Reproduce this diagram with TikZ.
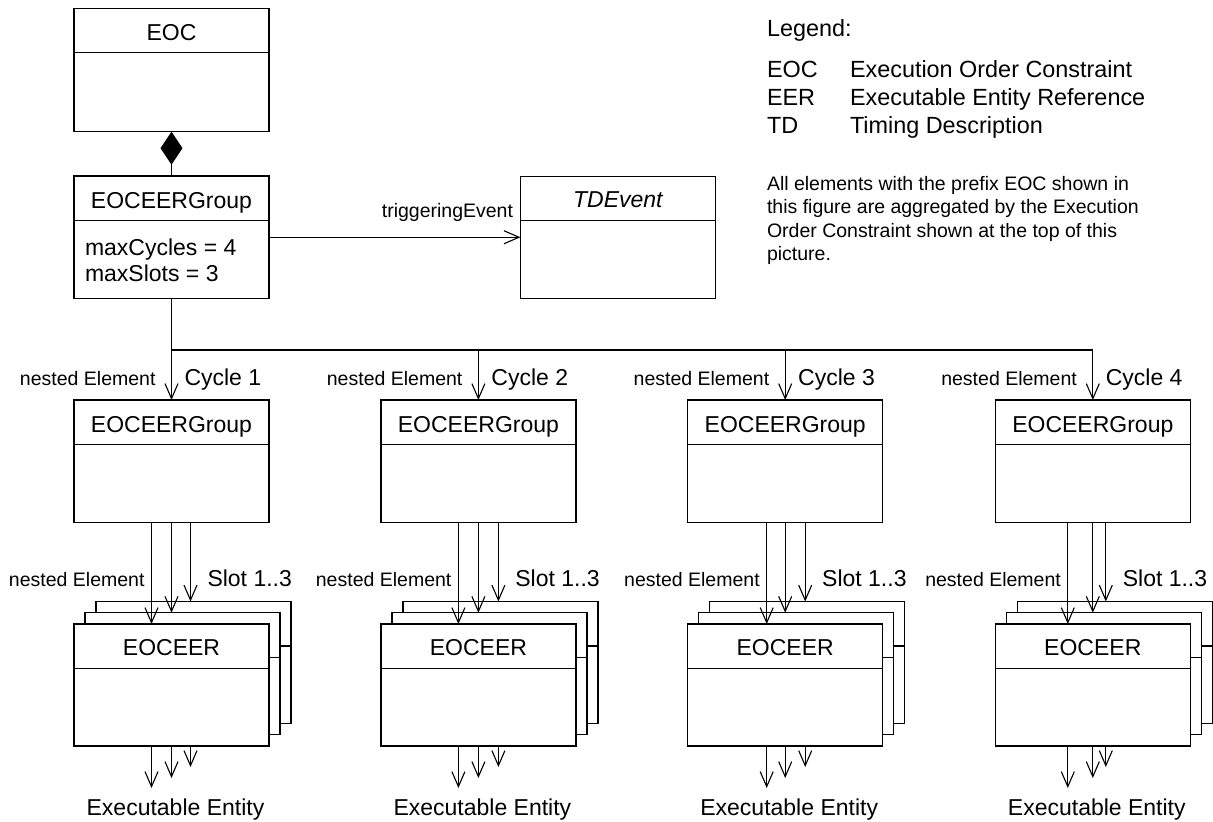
\documentclass[tikz,border=0pt]{standalone}
\usepackage{fontspec}
\setmainfont{Liberation Sans}
\usetikzlibrary{arrows.meta,calc}
\tikzset{
  umlbox/.style={draw, line width=1.2pt, fill=white, minimum width=195pt, minimum height=122.5pt, inner sep=0pt, outer sep=0pt},
  conn/.style={line width=1.1pt},
  arr/.style={conn, -{Straight Barb[length=15pt,width=13pt]}},
  maintxt/.style={font=\fontsize{23}{27}\selectfont, inner sep=0pt, outer sep=0pt},
  legtxt/.style={font=\fontsize{23.4}{27}\selectfont, inner sep=0pt, outer sep=0pt},
  smalltxt/.style={font=\fontsize{19.5}{23.5}\selectfont, inner sep=0pt, outer sep=0pt},
}
\newcommand\umldivider[1]{\draw[conn] ($(#1.north west)+(0,44.5)$) -- ($(#1.north east)+(0,44.5)$);}
\begin{document}
\begin{tikzpicture}[x=1pt,y=-1pt]
\fill[white] (0,0) rectangle (1213,822);
\useasboundingbox (0,0) rectangle (1213,822);

% top EOC box
\node[umlbox, minimum height=123.4pt] (eoc) at (171.5,70) {};
\umldivider{eoc}
\node[maintxt, anchor=base] (eoct) at ($(eoc.north)+(0,31.7)$) {EOC};

% top group
\node[umlbox] (g0) at (171.5,237.25) {};
\umldivider{g0}
\node[maintxt, anchor=base] (g0t) at ($(g0.north)+(0,32)$) {EOCEERGroup};
\node[maintxt, anchor=base west] (g0a) at (85,255) {maxCycles = 4};
\node[maintxt, anchor=base west] (g0b) at (85,281.7) {maxSlots = 3};

\draw[conn, {Diamond[length=33pt,width=22pt]}-] (eoc.south) -- (g0.north);

% TDEvent
\node[umlbox, minimum height=122pt] (td) at (617.9,237.25) {};
\umldivider{td}
\node[maintxt, anchor=base] (tdt) at ($(td.north)+(0,31.3)$) {\itshape TDEvent};
\draw[arr] (g0.east) -- (td.west);
\node[smalltxt, anchor=base east] (trig) at (513,217) {triggeringEvent};

% legend
\node[legtxt, anchor=base west] (lg) at (767,36.7) {Legend:};
\node[legtxt, anchor=base west] (lga) at (767,77.7) {EOC};
\node[legtxt, anchor=base west] (lgad) at (850,77.7) {Execution Order Constraint};
\node[legtxt, anchor=base west] (lgb) at (767,105.7) {EER};
\node[legtxt, anchor=base west] (lgbd) at (850,105.7) {Executable Entity Reference};
\node[legtxt, anchor=base west] (lgc) at (767,133.5) {TD};
\node[legtxt, anchor=base west] (lgcd) at (850,133.5) {Timing Description};
\node[smalltxt, anchor=north west, align=left] (note) at (767,176) {All elements with the prefix EOC shown in\\this figure are aggregated by the Execution\\Order Constraint shown at the top of this\\picture.};

% columns
\foreach \i/\cx/\dl/\dr in {1/171.5/-20/19, 2/478.4/-20/20, 3/785.2/-18.5/20, 4/1092.8/-25/13} {
  \node[umlbox, minimum height=122.7pt] (cyc\i) at (\cx,461.35) {};
  \umldivider{cyc\i}
  \node[maintxt, anchor=base] (cyct\i) at ($(cyc\i.north)+(0,32)$) {EOCEERGroup};
  \coordinate (b\i) at (\cx,350);
  \node[smalltxt, anchor=base east] (ne\i) at ({\cx-16},385) {nested Element};
  \node[maintxt, anchor=base west] (cy\i) at ({\cx+13},385) {Cycle \i};
  % stacked EOCEER
  \node[umlbox, minimum height=122pt] (eerC\i) at ({\cx+22},662.5) {};
  \umldivider{eerC\i}
  \node[umlbox, minimum height=122pt] (eerB\i) at ({\cx+11},673.75) {};
  \umldivider{eerB\i}
  \node[umlbox, minimum height=122pt] (eerA\i) at (\cx,685) {};
  \umldivider{eerA\i}
  \node[maintxt, anchor=base] (eert\i) at ($(eerA\i.north)+(0,31.5)$) {EOCEER};
  % slot arrows
  \coordinate (sl\i) at ($(cyc\i.south)+(\dl,0)$);
  \coordinate (sr\i) at ($(cyc\i.south)+(\dr,0)$);
  \draw[arr] (sl\i) -- (sl\i |- eerA\i.north);
  \draw[arr] (cyc\i.south) -- (cyc\i.south |- eerB\i.north);
  \draw[arr] (sr\i) -- (sr\i |- eerC\i.north);
  \node[smalltxt, anchor=base east] (ns\i) at ({\cx+(\dl)-7},586) {nested Element};
  \node[maintxt, anchor=base west] (slt\i) at ({\cx+(\dr)+17},586) {Slot 1..3};
  % to executable entity
  \coordinate (xa\i) at ({\cx+(\dl)},788);
  \coordinate (xb\i) at (\cx,778);
  \coordinate (xc\i) at ({\cx+(\dr)},767);
  \draw[arr] (xa\i |- eerA\i.south) -- (xa\i);
  \draw[arr] (xb\i |- eerA\i.south) -- (xb\i);
  \draw[arr] (xc\i |- eerA\i.south) -- (xc\i);
  \node[maintxt, anchor=base] (ex\i) at ({\cx+4},815) {Executable Entity};
}
\draw[conn] (g0.south) -- (b1);
\draw[conn] (b1) -- (b4);
\foreach \i in {1,2,3,4} { \draw[arr] (b\i) -- (cyc\i.north); }
\end{tikzpicture}
\end{document}
